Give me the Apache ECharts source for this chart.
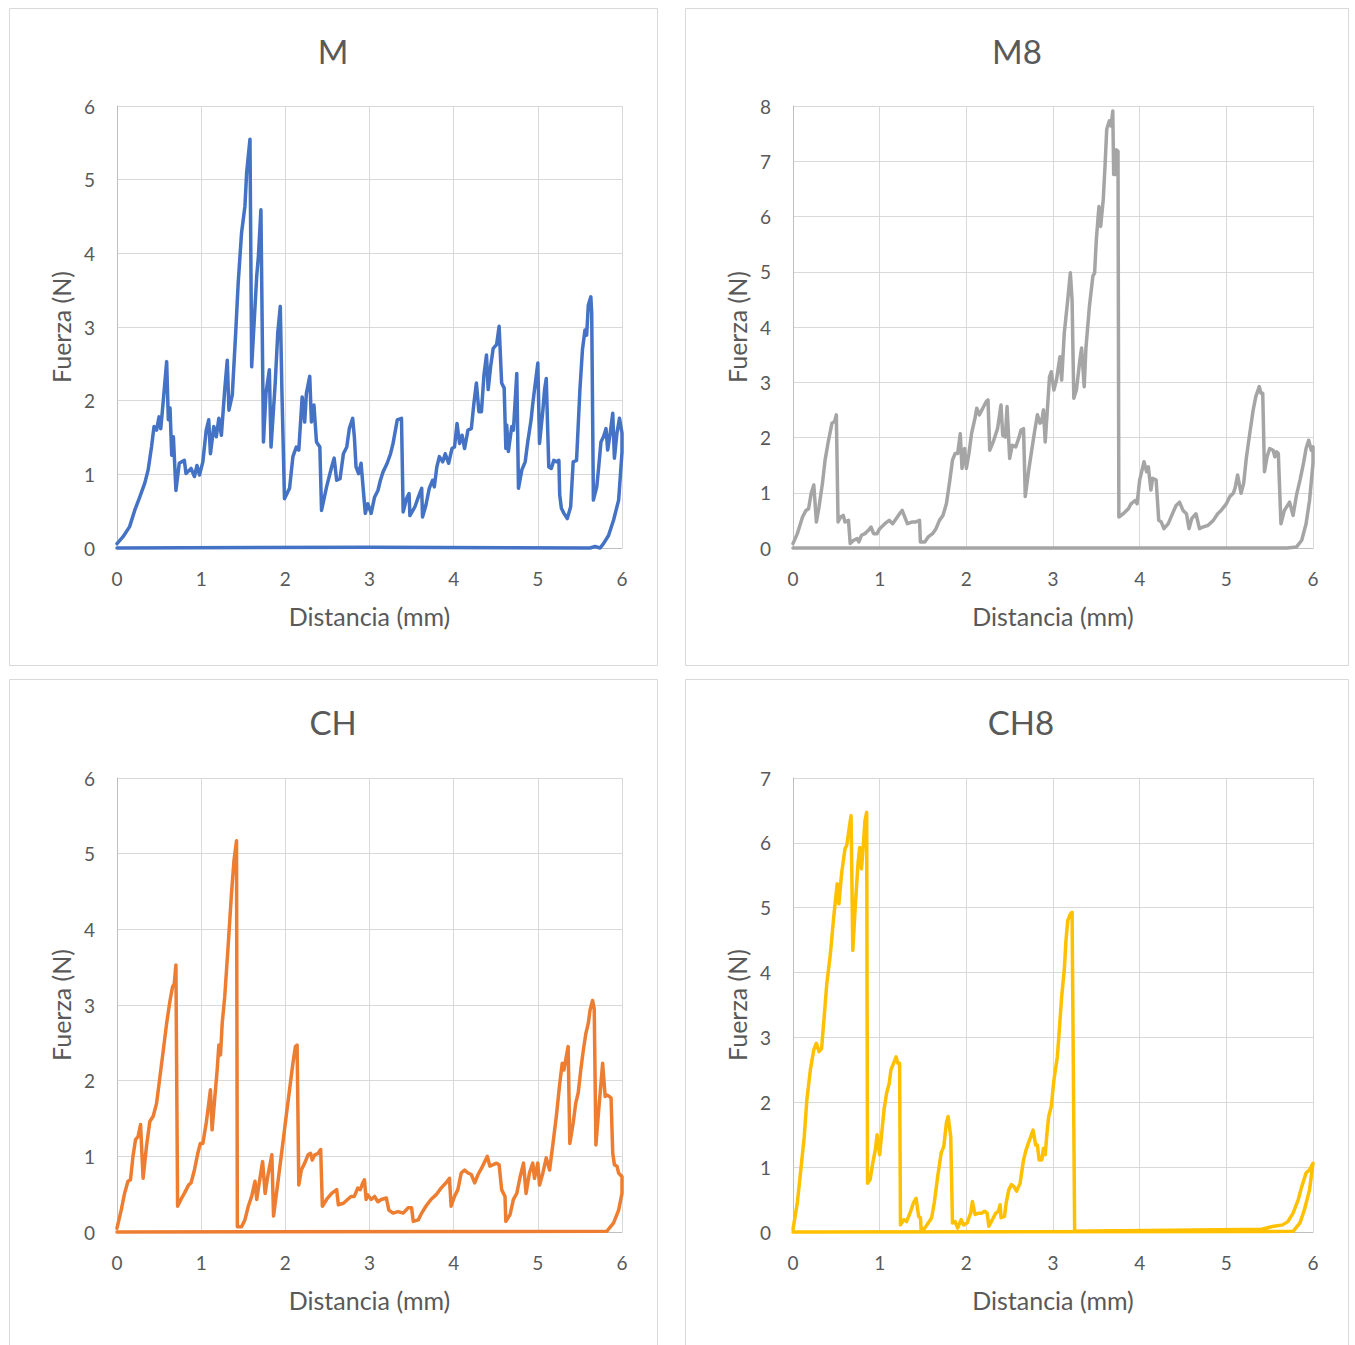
<!DOCTYPE html>
<html><head><meta charset="utf-8">
<script src="https://cdn.jsdelivr.net/npm/echarts@6/dist/echarts.min.js"></script>
<style>html,body{margin:0;padding:0;background:#fff}#c{width:1355px;height:1345px}</style>
</head><body><div id="c"></div>
<script>
const panelTitles = ['M', 'M8', 'CH', 'CH8'];
const xAxisName = 'Distancia (mm)';
const yAxisName = 'Fuerza (N)';
const xTickMax = 6;
const yTickMax = [6, 8, 6, 7];
const colors = ['#4472C4', '#A5A5A5', '#ED7D31', '#FFC000'];

// M
const mX = [0,0.07,0.15,0.21,0.27,0.33,0.37,0.41,0.44,0.47,0.50,0.52,0.55,0.59,0.61,0.63,0.65,0.67,0.70,0.74,0.80,0.82,0.88,0.92,0.95,0.98,1.02,1.06,1.09,1.11,1.15,1.18,1.21,1.24,1.28,1.31,1.33,1.37,1.41,1.44,1.48,1.52,1.54,1.58,1.60,1.66,1.68,1.71,1.74,1.77,1.81,1.83,1.88,1.91,1.94,1.96,1.99,2.05,2.09,2.13,2.16,2.20,2.23,2.25,2.29,2.31,2.34,2.37,2.41,2.43,2.49,2.55,2.58,2.61,2.65,2.69,2.73,2.76,2.80,2.82,2.84,2.87,2.90,2.93,2.95,2.98,3.02,3.06,3.10,3.13,3.16,3.21,3.25,3.28,3.33,3.38,3.40,3.44,3.47,3.48,3.54,3.58,3.62,3.63,3.67,3.71,3.75,3.77,3.80,3.83,3.87,3.90,3.94,3.98,4.01,4.04,4.07,4.10,4.13,4.17,4.21,4.24,4.27,4.30,4.33,4.36,4.39,4.41,4.44,4.47,4.51,4.54,4.57,4.60,4.62,4.63,4.65,4.69,4.71,4.75,4.77,4.81,4.85,4.88,4.92,4.94,4.98,5.00,5.02,5.06,5.08,5.10,5.13,5.16,5.19,5.22,5.25,5.26,5.28,5.31,5.35,5.39,5.42,5.46,5.50,5.53,5.56,5.58,5.60,5.63,5.64,5.66,5.70,5.72,5.75,5.78,5.81,5.83,5.86,5.89,5.91,5.94,5.97,6.00,6.00,5.96,5.90,5.84,5.78,5.74,5.68,5.62,3.0,0];
const mY = [0.06,0.15,0.29,0.51,0.69,0.88,1.06,1.37,1.65,1.60,1.78,1.62,2.00,2.53,1.74,1.90,1.26,1.51,0.78,1.15,1.19,1.01,1.08,0.97,1.12,0.99,1.17,1.60,1.74,1.28,1.65,1.51,1.76,1.53,2.15,2.55,1.87,2.08,2.92,3.60,4.28,4.64,5.09,5.55,2.46,3.69,3.96,4.59,1.44,2.10,2.42,1.37,2.24,2.92,3.28,2.10,0.67,0.81,1.24,1.37,1.33,2.05,1.71,2.10,2.33,1.71,1.94,1.44,1.37,0.51,0.83,1.10,1.22,0.92,0.94,1.28,1.37,1.62,1.76,1.51,1.10,1.01,1.15,0.74,0.47,0.60,0.47,0.69,0.78,0.92,1.03,1.15,1.28,1.42,1.74,1.76,0.49,0.67,0.74,0.44,0.56,0.69,0.81,0.42,0.58,0.81,0.92,0.83,1.10,1.24,1.17,1.28,1.15,1.35,1.37,1.69,1.42,1.53,1.35,1.60,1.62,1.96,2.24,1.85,1.85,2.35,2.62,2.15,2.47,2.71,2.76,3.01,2.24,2.17,1.35,1.67,1.31,1.65,1.60,2.37,0.81,1.06,1.17,1.44,1.74,1.96,2.33,2.51,1.42,1.87,2.15,2.30,1.10,1.08,1.19,1.17,1.19,0.72,0.54,0.47,0.40,0.56,1.17,1.19,2.15,2.69,2.96,2.89,3.30,3.41,3.19,0.65,0.83,1.06,1.44,1.51,1.62,1.33,1.56,1.83,1.22,1.56,1.76,1.56,1.30,0.65,0.38,0.17,0.06,0.0,0.02,0.0,0.01,0];

// M8
const m8X = [0,0.05,0.11,0.15,0.18,0.21,0.24,0.27,0.30,0.34,0.37,0.41,0.45,0.48,0.50,0.52,0.55,0.58,0.60,0.64,0.66,0.70,0.74,0.76,0.79,0.83,0.87,0.90,0.93,0.97,1.00,1.06,1.11,1.15,1.19,1.23,1.26,1.29,1.32,1.37,1.41,1.46,1.47,1.52,1.56,1.61,1.65,1.69,1.73,1.77,1.81,1.84,1.87,1.90,1.93,1.95,1.98,2.00,2.03,2.06,2.10,2.12,2.15,2.18,2.20,2.23,2.25,2.27,2.31,2.36,2.40,2.42,2.45,2.47,2.50,2.53,2.57,2.61,2.63,2.66,2.68,2.72,2.76,2.79,2.82,2.85,2.87,2.89,2.91,2.93,2.96,2.98,3.01,3.04,3.08,3.10,3.13,3.17,3.20,3.22,3.24,3.27,3.31,3.33,3.36,3.38,3.42,3.46,3.48,3.50,3.53,3.55,3.58,3.60,3.62,3.65,3.67,3.69,3.70,3.72,3.73,3.75,3.76,3.81,3.87,3.90,3.95,3.97,4.00,4.05,4.08,4.10,4.13,4.15,4.19,4.22,4.25,4.28,4.33,4.37,4.42,4.46,4.50,4.54,4.57,4.60,4.65,4.69,4.73,4.79,4.85,4.90,4.94,5.00,5.04,5.08,5.10,5.13,5.17,5.20,5.23,5.27,5.31,5.34,5.38,5.40,5.42,5.44,5.47,5.50,5.54,5.56,5.58,5.60,5.63,5.67,5.73,5.77,5.81,5.85,5.89,5.92,5.95,5.98,6.00,6.00,5.96,5.92,5.87,5.81,5.70,0];
const m8Y = [0.08,0.26,0.56,0.68,0.71,0.99,1.14,0.47,0.74,1.17,1.59,1.95,2.26,2.29,2.41,0.47,0.56,0.59,0.47,0.50,0.08,0.14,0.17,0.11,0.23,0.26,0.32,0.38,0.26,0.26,0.35,0.44,0.50,0.44,0.53,0.62,0.68,0.56,0.44,0.47,0.47,0.50,0.11,0.11,0.20,0.26,0.35,0.50,0.59,0.80,1.23,1.59,1.71,1.71,2.07,1.44,1.80,1.44,1.71,2.07,2.35,2.53,2.41,2.50,2.56,2.65,2.68,1.77,1.92,2.16,2.59,2.04,2.01,2.56,1.62,1.86,1.83,2.01,2.13,2.16,0.93,1.41,1.83,2.13,2.41,2.26,2.29,2.50,1.92,2.38,3.10,3.19,2.86,3.04,3.46,3.04,3.89,4.49,4.98,4.49,2.71,2.86,3.40,3.62,2.92,3.62,4.37,4.92,4.98,5.58,6.18,5.82,6.31,6.91,7.58,7.73,7.64,7.91,6.76,6.76,7.21,7.18,0.56,0.62,0.71,0.80,0.86,0.80,1.23,1.56,1.38,1.47,1.05,1.26,1.23,0.50,0.47,0.35,0.44,0.59,0.77,0.83,0.68,0.62,0.35,0.53,0.62,0.35,0.38,0.41,0.50,0.62,0.68,0.80,0.93,0.99,1.08,1.32,0.99,1.17,1.62,2.07,2.50,2.74,2.92,2.80,2.80,1.38,1.65,1.80,1.77,1.65,1.74,1.71,0.44,0.68,0.83,0.59,0.96,1.23,1.53,1.80,1.95,1.77,1.83,1.53,0.86,0.44,0.14,0.02,0,0];

// CH
const chX = [0,0.05,0.09,0.13,0.16,0.19,0.22,0.25,0.28,0.31,0.35,0.39,0.43,0.47,0.51,0.55,0.59,0.63,0.66,0.68,0.70,0.72,0.76,0.80,0.85,0.88,0.92,0.96,0.99,1.02,1.06,1.09,1.11,1.13,1.16,1.19,1.21,1.23,1.25,1.28,1.32,1.36,1.39,1.42,1.43,1.48,1.52,1.56,1.60,1.64,1.66,1.69,1.73,1.76,1.79,1.84,1.86,1.89,1.93,1.97,2.01,2.05,2.09,2.12,2.14,2.16,2.19,2.23,2.27,2.30,2.32,2.35,2.39,2.42,2.44,2.49,2.55,2.61,2.63,2.69,2.74,2.78,2.82,2.86,2.89,2.92,2.94,2.96,2.98,3.02,3.06,3.10,3.14,3.20,3.23,3.28,3.34,3.40,3.46,3.50,3.52,3.58,3.62,3.67,3.73,3.79,3.85,3.91,3.95,3.97,4.01,4.05,4.09,4.13,4.17,4.21,4.25,4.29,4.33,4.37,4.40,4.43,4.47,4.51,4.54,4.57,4.61,4.62,4.67,4.71,4.75,4.79,4.83,4.86,4.90,4.94,4.96,5.00,5.02,5.06,5.10,5.14,5.18,5.22,5.26,5.29,5.31,5.33,5.36,5.38,5.42,5.45,5.48,5.51,5.54,5.57,5.60,5.62,5.65,5.67,5.69,5.72,5.75,5.77,5.80,5.82,5.85,5.87,5.89,5.91,5.94,5.96,6.00,6.00,6.00,5.96,5.90,5.82,0];
const chY = [0.05,0.29,0.51,0.67,0.69,1.00,1.22,1.26,1.42,0.71,1.13,1.46,1.53,1.70,2.05,2.40,2.76,3.06,3.24,3.28,3.53,0.34,0.43,0.51,0.62,0.65,0.82,1.04,1.17,1.17,1.44,1.70,1.88,1.35,1.75,2.14,2.47,2.34,2.76,3.11,3.77,4.47,4.91,5.17,0.07,0.07,0.16,0.34,0.47,0.67,0.43,0.65,0.93,0.51,0.73,1.02,0.21,0.47,0.82,1.17,1.53,1.88,2.23,2.45,2.47,0.62,0.82,0.91,1.02,1.04,0.95,1.02,1.04,1.09,0.34,0.43,0.51,0.56,0.36,0.38,0.43,0.47,0.47,0.58,0.56,0.65,0.69,0.43,0.49,0.43,0.47,0.40,0.43,0.45,0.29,0.25,0.27,0.25,0.32,0.32,0.14,0.16,0.25,0.34,0.43,0.49,0.58,0.65,0.71,0.34,0.47,0.56,0.78,0.82,0.78,0.76,0.65,0.76,0.84,0.93,1.00,0.87,0.89,0.91,0.89,0.56,0.47,0.14,0.23,0.43,0.51,0.73,0.91,0.51,0.78,0.91,0.71,0.91,0.62,0.78,0.98,0.82,1.17,1.53,1.96,2.23,2.14,2.27,2.45,1.17,1.44,1.70,1.84,2.14,2.40,2.62,2.76,2.93,3.06,2.95,1.15,1.57,1.96,2.23,1.79,1.81,1.79,1.77,1.04,0.89,0.87,0.78,0.73,0.62,0.51,0.29,0.12,0.01,0];

// CH8
const ch8X = [0,0.05,0.09,0.13,0.16,0.20,0.24,0.27,0.30,0.33,0.36,0.39,0.43,0.47,0.51,0.53,0.56,0.60,0.62,0.65,0.67,0.69,0.72,0.75,0.77,0.79,0.81,0.83,0.85,0.86,0.89,0.92,0.95,0.97,1.00,1.02,1.05,1.08,1.11,1.13,1.16,1.19,1.21,1.23,1.24,1.28,1.31,1.35,1.39,1.42,1.45,1.47,1.48,1.52,1.56,1.60,1.63,1.67,1.71,1.74,1.77,1.79,1.82,1.84,1.87,1.90,1.94,1.97,2.01,2.05,2.07,2.10,2.14,2.18,2.21,2.24,2.26,2.30,2.34,2.37,2.39,2.40,2.44,2.46,2.49,2.52,2.55,2.58,2.62,2.66,2.69,2.73,2.77,2.80,2.82,2.84,2.87,2.89,2.91,2.93,2.95,2.98,3.01,3.05,3.07,3.10,3.13,3.15,3.17,3.20,3.22,3.25,5.21,5.40,5.55,5.65,5.71,5.77,5.83,5.87,5.92,5.96,6.00,5.96,5.90,5.85,5.77,0];
const ch8Y = [0.04,0.45,0.96,1.47,2.04,2.50,2.81,2.91,2.78,2.83,3.32,3.83,4.27,4.86,5.37,5.06,5.52,5.91,5.96,6.24,6.42,4.34,5.06,5.68,5.93,5.60,5.93,6.34,6.47,0.75,0.81,1.06,1.27,1.50,1.19,1.47,1.88,2.14,2.29,2.50,2.60,2.70,2.60,2.60,0.11,0.19,0.16,0.29,0.45,0.52,0.24,0.22,0.01,0.06,0.14,0.22,0.45,0.86,1.22,1.32,1.68,1.78,1.47,0.14,0.16,0.06,0.19,0.11,0.14,0.29,0.47,0.27,0.29,0.29,0.32,0.29,0.09,0.19,0.29,0.32,0.42,0.22,0.24,0.45,0.65,0.73,0.70,0.63,0.75,1.11,1.27,1.42,1.57,1.34,1.34,1.11,1.11,1.29,1.19,1.52,1.78,1.93,2.34,2.70,3.06,3.63,4.04,4.50,4.80,4.90,4.93,0.01,0.04,0.04,0.09,0.11,0.16,0.29,0.50,0.70,0.91,0.96,1.06,0.65,0.34,0.14,0.01,0];

const seriesX = [mX, m8X, chX, ch8X];
const seriesY = [mY, m8Y, chY, ch8Y];

const FONT = 'Lato, "Open Sans", sans-serif';
const TXT = '#595959';
const GRID_C = '#D9D9D9';

const grids = [
  {left:117, top:106, width:505, height:442},
  {left:793, top:106, width:520, height:442},
  {left:117, top:778, width:505, height:454},
  {left:793, top:778, width:520, height:454}
];
const panels = [
  {x:9.5, y:8.5, w:648, h:657, tx:333, ty:51},
  {x:685.5, y:8.5, w:663, h:657, tx:1017, ty:51},
  {x:9.5, y:679.5, w:648, h:690, tx:333, ty:722},
  {x:685.5, y:679.5, w:663, h:690, tx:1021, ty:722}
];

const chart = echarts.init(document.getElementById('c'), null, {renderer:'svg'});
const graphic = [];
panels.forEach((p, i) => {
  graphic.push({type:'rect', shape:{x:p.x, y:p.y, width:p.w, height:p.h}, style:{fill:'none', stroke:GRID_C, lineWidth:1}, z:-1});
  graphic.push({type:'text', x:p.tx, y:p.ty, style:{text:panelTitles[i], font:'33px ' + FONT, fill:TXT, align:'center', verticalAlign:'middle'}});
});

const option = {
  animation:false,
  backgroundColor:'#fff',
  graphic: graphic,
  grid: grids.map(g => Object.assign({containLabel:false}, g)),
  xAxis: grids.map((g, i) => ({
    type:'value', gridIndex:i, min:0, max:xTickMax, interval:1,
    name:xAxisName, nameLocation:'middle', nameGap:55,
    nameTextStyle:{fontFamily:FONT, fontSize:25, color:TXT},
    axisLine:{show:true, onZero:false, lineStyle:{color:'#BFBFBF', width:1}},
    axisTick:{show:false},
    axisLabel:{fontFamily:FONT, fontSize:19, color:TXT, margin:21},
    splitLine:{show:true, lineStyle:{color:GRID_C, width:1}}
  })),
  yAxis: grids.map((g, i) => ({
    type:'value', gridIndex:i, min:0, max:yTickMax[i], interval:1,
    name:yAxisName, nameLocation:'middle', nameGap:44,
    nameTextStyle:{fontFamily:FONT, fontSize:25, color:TXT},
    axisLine:{show:true, lineStyle:{color:'#BFBFBF', width:1}},
    axisTick:{show:false},
    axisLabel:{fontFamily:FONT, fontSize:19, color:TXT, margin:22},
    splitLine:{show:true, lineStyle:{color:GRID_C, width:1}}
  })),
  series: seriesX.map((xs, i) => ({
    type:'line', xAxisIndex:i, yAxisIndex:i, showSymbol:false, symbol:'none',
    data: xs.map((x, k) => [x, seriesY[i][k]]),
    lineStyle:{color:colors[i], width:3.5, join:'round', cap:'round'},
    itemStyle:{color:colors[i]},
    clip:false
  }))
};
chart.setOption(option);
</script>
</body></html>
